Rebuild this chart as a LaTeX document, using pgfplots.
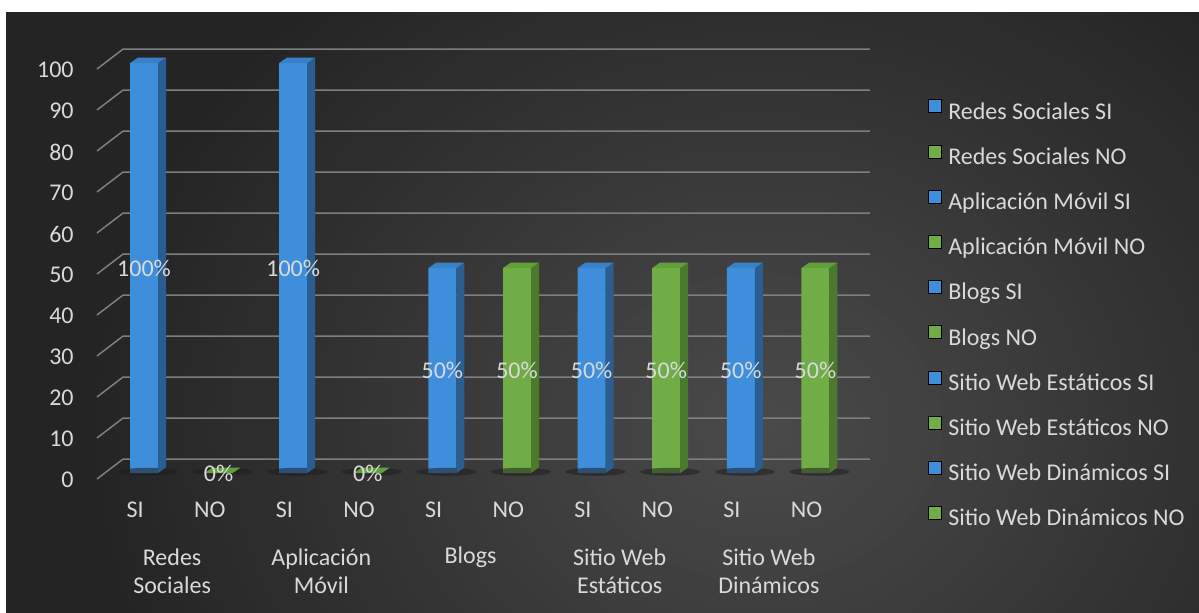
\documentclass[border=0pt]{standalone}
\usepackage{fontspec}
\setmainfont{Carlito}
\usepackage{pgfplots}
\pgfplotsset{compat=1.18}
\usepackage{pgfplotstable}

\definecolor{bgouter}{HTML}{242424}
\definecolor{bginner}{HTML}{4A4A4A}
\definecolor{txt}{HTML}{D9D9D9}
\definecolor{gridc}{HTML}{7F7F7F}
\definecolor{bluefront}{HTML}{3E8EDC}
\definecolor{blueside}{HTML}{2A5E91}
\definecolor{bluetop}{HTML}{3A80C6}
\definecolor{greenfront}{HTML}{70AD47}
\definecolor{greenside}{HTML}{4B7A2C}
\definecolor{greentop}{HTML}{62A03B}
\definecolor{shadowc}{HTML}{1E1E1E}

\pgfdeclareplotmark{barside}{%
 \pgfpathmoveto{\pgfqpoint{7pt}{0pt}}%
 \pgfpathlineto{\pgfqpoint{11pt}{2.75pt}}%
 \pgfpathlineto{\pgfpoint{11pt}{2.75pt-\barh*1pt}}%
 \pgfpathlineto{\pgfpoint{7pt}{-\barh*1pt}}%
 \pgfpathclose\pgfusepathqfill}
\pgfdeclareplotmark{bartop}{%
 \pgfpathmoveto{\pgfqpoint{-7pt}{0pt}}%
 \pgfpathlineto{\pgfqpoint{7pt}{0pt}}%
 \pgfpathlineto{\pgfqpoint{11pt}{2.75pt}}%
 \pgfpathlineto{\pgfqpoint{-3pt}{2.75pt}}%
 \pgfpathclose\pgfusepathqfill}
\pgfdeclareplotmark{barshadow}{%
 \pgfpathellipse{\pgfpoint{2pt}{-\barh*1pt+0.6pt}}{\pgfqpoint{15pt}{0pt}}{\pgfqpoint{0pt}{2pt}}%
 \pgfusepathqfill}

\pgfplotstableread{
x v
0 100
2 100
4 50
6 50
8 50
}\siData
\pgfplotstableread{
x v
1 0
3 0
5 50
7 50
9 50
}\noData

\newcommand\chartfont{\fontsize{12}{14}\selectfont}

\begin{document}
\begin{tikzpicture}
\path[use as bounding box] (0,0) rectangle (599.5pt,306pt);
\fill[bgouter] (0pt,-5pt) rectangle (605pt,300pt);
\foreach \i in {0,...,40}{
  \pgfmathsetmacro\rr{340*(1-\i/41)}
  \pgfmathsetmacro\mix{100*\i/40}
  \fill[bginner!\mix!bgouter] (380pt,92pt) ellipse ({\rr pt} and {\rr*0.85 pt});
}
\fill[white] (-5pt,300pt) rectangle (605pt,320pt);
\fill[white] (-5pt,-5pt) rectangle (3pt,320pt);
\begin{axis}[
  at={(53.35pt,69.5pt)}, anchor=south west,
  scale only axis, width=373pt, height=205pt,
  xmin=-0.5, xmax=9.5, ymin=0, ymax=100,
  clip=false,
  axis line style={draw=none},
  major tick length=0pt,
  xtick={0,...,9},
  xticklabels={SI,NO,SI,NO,SI,NO,SI,NO,SI,NO},
  ytick={0,10,...,100},
  /pgf/number format/assume math mode=true,
  ticklabel style={text=txt, font=\chartfont},
  yticklabel style={anchor=east, inner sep=0pt, xshift=-16.35pt, yshift=-3.5pt},
  xticklabel style={anchor=center, inner sep=0pt, yshift=-18.5pt, xshift=-4.4pt},
  legend image code/.code={\fill[#1] (0pt,0.45pt) rectangle (6.5pt,6.95pt);},
  legend cell align=left,
  legend style={at={(1.101,0.385)}, anchor=west, draw=none, fill=none,
    text=txt, font=\chartfont, inner sep=0pt, row sep=10.2pt,
    nodes={inner sep=0pt, text height=8pt, text depth=2.5pt},
    /tikz/every odd column/.style={column sep=3pt}},
]
\pgfplotsinvokeforeach{0,10,...,100}{
  \draw[gridc, line width=0.75pt] (axis cs:-0.63,#1-1.46) -- (axis cs:-0.28,#1+3.41) -- (axis cs:9.73,#1+3.41);
}
% floor shadows
\addplot[only marks, mark=barshadow, mark options={fill=shadowc, fill opacity=0.55, draw=none}, forget plot,
  visualization depends on={\thisrow{v}*2.05 \as \barh}] table[x=x,y=v]{\siData};
\addplot[only marks, mark=barshadow, mark options={fill=shadowc, fill opacity=0.55, draw=none}, forget plot,
  visualization depends on={\thisrow{v}*2.05 \as \barh}] table[x=x,y=v]{\noData};
% front faces
\addplot[ybar, bar width=14pt, bar shift=0pt, draw=none, fill=bluefront, forget plot] table[x=x,y=v]{\siData};
\addplot[ybar, bar width=14pt, bar shift=0pt, draw=none, fill=greenfront, forget plot] table[x=x,y=v]{\noData};
% side faces
\addplot[only marks, mark=barside, mark options={fill=blueside, draw=none}, forget plot,
  visualization depends on={\thisrow{v}*2.05 \as \barh}] table[x=x,y=v]{\siData};
\addplot[only marks, mark=barside, mark options={fill=greenside, draw=none}, forget plot,
  visualization depends on={\thisrow{v}*2.05 \as \barh}] table[x=x,y=v]{\noData};
% top faces
\addplot[only marks, mark=bartop, mark options={fill=bluetop, draw=none}, forget plot] table[x=x,y=v]{\siData};
\addplot[only marks, mark=bartop, mark options={fill=greentop, draw=none}, forget plot] table[x=x,y=v]{\noData};
% labels
\addplot[draw=none, mark=none, forget plot, point meta=y,
  visualization depends on={\thisrow{v}*1.025 \as \halfh},
  nodes near coords={\pgfmathprintnumber{\pgfplotspointmeta}\%},
  nodes near coords style={anchor=center, yshift=-\halfh*1pt, text=txt, font=\chartfont, inner sep=0pt}]
  table[x=x,y=v]{\siData};
\addplot[draw=none, mark=none, forget plot, point meta=y,
  visualization depends on={\thisrow{v}*1.025 \as \halfh},
  nodes near coords={\pgfmathprintnumber{\pgfplotspointmeta}\%},
  nodes near coords style={anchor=center, yshift=-\halfh*1pt, text=txt, font=\chartfont, inner sep=0pt}]
  table[x=x,y=v]{\noData};
% legend
\addlegendimage{fill=bluefront}\addlegendentry{Redes Sociales SI}
\addlegendimage{fill=greenfront}\addlegendentry{Redes Sociales NO}
\addlegendimage{fill=bluefront}\addlegendentry{Aplicación Móvil SI}
\addlegendimage{fill=greenfront}\addlegendentry{Aplicación Móvil NO}
\addlegendimage{fill=bluefront}\addlegendentry{Blogs SI}
\addlegendimage{fill=greenfront}\addlegendentry{Blogs NO}
\addlegendimage{fill=bluefront}\addlegendentry{Sitio Web Estáticos SI}
\addlegendimage{fill=greenfront}\addlegendentry{Sitio Web Estáticos NO}
\addlegendimage{fill=bluefront}\addlegendentry{Sitio Web Dinámicos SI}
\addlegendimage{fill=greenfront}\addlegendentry{Sitio Web Dinámicos NO}
% group labels
\node[text=txt, font=\chartfont, align=center, yshift=-49pt, xshift=-4.6pt] at (axis cs:0.5,0) {Redes\\Sociales};
\node[text=txt, font=\chartfont, align=center, yshift=-49pt, xshift=-4.6pt] at (axis cs:2.5,0) {Aplicación\\Móvil};
\node[text=txt, font=\chartfont, align=center, yshift=-42pt, xshift=-4.6pt] at (axis cs:4.5,0) {Blogs};
\node[text=txt, font=\chartfont, align=center, yshift=-49pt, xshift=-4.6pt] at (axis cs:6.5,0) {Sitio Web\\Estáticos};
\node[text=txt, font=\chartfont, align=center, yshift=-49pt, xshift=-4.6pt] at (axis cs:8.5,0) {Sitio Web\\Dinámicos};
\end{axis}
\end{tikzpicture}
\end{document}
